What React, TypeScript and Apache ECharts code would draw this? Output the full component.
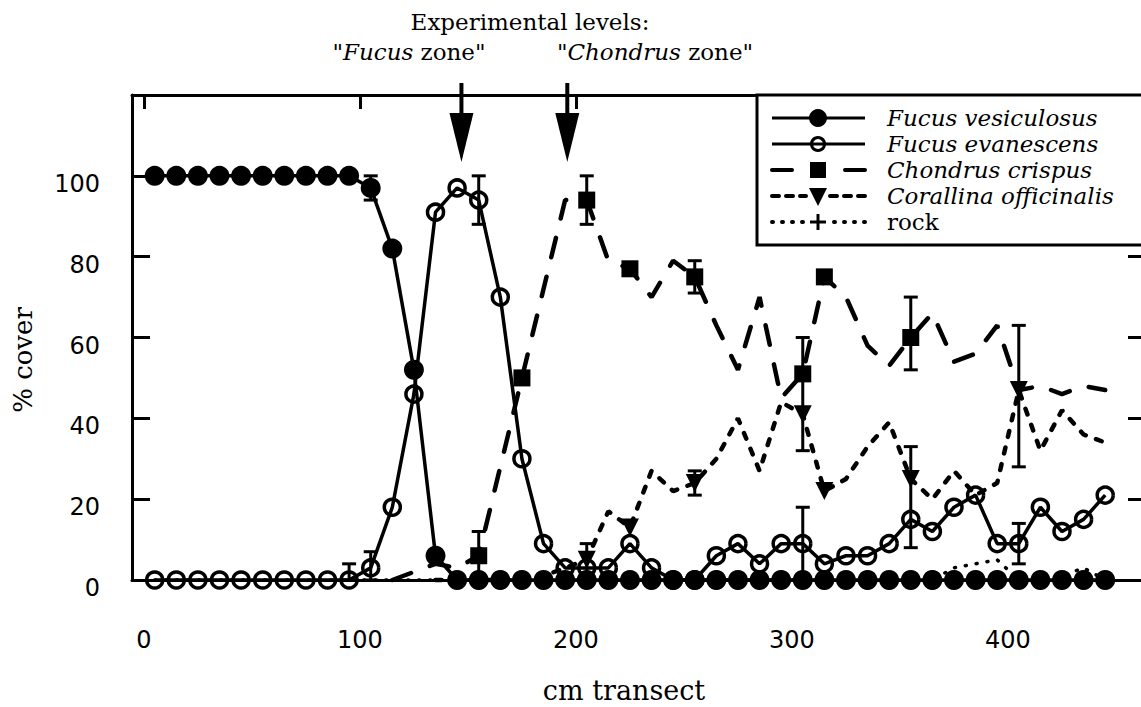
import React, { useEffect, useRef } from "react";
import * as echarts from "echarts";

// ---------- data ----------
const transectCm = [5, 15, 25, 35, 45, 55, 65, 75, 85, 95, 105, 115, 125, 135, 145, 155, 165, 175, 185, 195, 205, 215, 225, 235, 245, 255, 265, 275, 285, 295, 305, 315, 325, 335, 345, 355, 365, 375, 385, 395, 405, 415, 425, 435, 445];

const fucusVesiculosus = [100, 100, 100, 100, 100, 100, 100, 100, 100, 100, 97, 82, 52, 6, 0, 0, 0, 0, 0, 0, 0, 0, 0, 0, 0, 0, 0, 0, 0, 0, 0, 0, 0, 0, 0, 0, 0, 0, 0, 0, 0, 0, 0, 0, 0];

const fucusEvanescens = [0, 0, 0, 0, 0, 0, 0, 0, 0, 0, 3, 18, 46, 91, 97, 94, 70, 30, 9, 3, 3, 3, 9, 3, 0, 0, 6, 9, 4, 9, 9, 4, 6, 6, 9, 15, 12, 18, 21, 9, 9, 18, 12, 15, 21];

const chondrusCrispus = [null, null, null, null, null, null, null, null, null, null, null, 0, 2, 4, 3, 6, 28, 50, 72, 94, 94, 79, 77, 70, 79, 75, 63, 52, 70, 45, 51, 75, 70, 58, 53, 60, 66, 54, 56, 63, 47, 48, 46, 48, 47];

const corallinaOfficinalis = [null, null, null, null, null, null, null, null, null, null, null, null, null, 0, 0, 0, 0, 0, 1, 3, 5, 17, 13, 27, 22, 24, 30, 40, 27, 44, 41, 22, 25, 33, 39, 25, 20, 27, 21, 24, 47, 32, 42, 36, 34];

const rock = [0, 0, 0, 0, 0, 0, 0, 0, 0, 0, 0, 0, 0, 0, 0, 0, 0, 0, 0, 0, 0, 0, 0, 0, 0, 0, 0, 0, 0, 0, 0, 0, 0, 0, 0, 0, 0, 3, 4, 5, 0, 0, 1, 3, 0];

// positions (cm) where the sparse markers are drawn
const chondrusMarkersAt = [155, 175, 205, 225, 255, 305, 315, 355];
const corallinaMarkersAt = [205, 225, 255, 305, 315, 355, 405];
const rockMarkersAt = [145];

// error bars: [cm, low, high]
const errorBars = [
  [95, 0, 4],
  [105, 94, 100],
  [105, 0, 7],
  [155, 88, 100],
  [155, 0, 12],
  [205, 88, 100],
  [205, 1, 9],
  [255, 71, 79],
  [255, 21, 27],
  [305, 32, 60],
  [305, 0, 18],
  [355, 52, 70],
  [355, 8, 33],
  [405, 28, 63],
  [405, 4, 14],
];

const xTickValues = [0, 100, 200, 300, 400];
const yTickValues = [0, 20, 40, 60, 80, 100];
const experimentalLevelsCm = [147, 196];

const legendNames = ["Fucus vesiculosus", "Fucus evanescens", "Chondrus crispus", "Corallina officinalis", "rock"];

// ---------- styles ----------
const SERIF = '"DejaVu Serif", serif';
const SANS = '"DejaVu Sans", sans-serif';
const BLACK = "#000";
const PLUS_PATH = "path://M4,0 L6,0 L6,4 L10,4 L10,6 L6,6 L6,10 L4,10 L4,6 L0,6 L0,4 L4,4 Z";

function pairs(values: (number | null)[]) {
  const out: number[][] = [];
  values.forEach((v, i) => {
    if (v !== null && v !== undefined) out.push([transectCm[i], v]);
  });
  return out;
}

function sparse(values: (number | null)[], at: number[], symbol: string) {
  return pairs(values).map((p) => ({
    value: p,
    symbol: at.indexOf(p[0]) >= 0 ? symbol : "none",
  }));
}

function buildOption() {
  const xMin = -5.5;
  const xMax = 462.5;
  return {
    animation: false,
    backgroundColor: "#fff",
    grid: { left: 132, top: 95, width: 1011, height: 485, containLabel: false },
    xAxis: [
      {
        type: "value",
        position: "bottom",
        min: xMin,
        max: xMax,
        axisLine: { show: true, onZero: false, lineStyle: { color: BLACK, width: 3 } },
        axisTick: { show: false },
        splitLine: { show: false },
        axisLabel: {
          customValues: xTickValues,
          color: BLACK,
          fontFamily: SANS,
          fontSize: 24,
          margin: 48,
        },
      },
      {
        type: "value",
        position: "top",
        min: xMin,
        max: xMax,
        axisLine: { show: true, onZero: false, lineStyle: { color: BLACK, width: 3 } },
        axisTick: {
          show: true,
          inside: true,
          length: 14,
          customValues: xTickValues,
          lineStyle: { color: BLACK, width: 3 },
        },
        splitLine: { show: false },
        axisLabel: { show: false },
      },
    ],
    yAxis: [
      {
        type: "value",
        position: "left",
        min: 0,
        max: 120,
        interval: 20,
        axisLine: { show: true, onZero: false, lineStyle: { color: BLACK, width: 3 } },
        axisTick: { show: true, inside: true, length: 18, lineStyle: { color: BLACK, width: 3 } },
        splitLine: { show: false },
        axisLabel: {
          customValues: yTickValues,
          color: BLACK,
          fontFamily: SANS,
          fontSize: 24,
          margin: 32,
          verticalAlign: "top",
          lineHeight: 16,
        },
      },
      {
        type: "value",
        position: "right",
        min: 0,
        max: 120,
        interval: 20,
        axisLine: { show: true, onZero: false, lineStyle: { color: BLACK, width: 3 } },
        axisTick: { show: true, inside: true, length: 15, lineStyle: { color: BLACK, width: 3 } },
        splitLine: { show: false },
        axisLabel: { show: false },
      },
    ],
    series: [
      {
        name: "rock",
        type: "line",
        z: 2,
        silent: true,
        clip: false,
        data: sparse(rock, rockMarkersAt, PLUS_PATH),
        symbolSize: 16,
        showAllSymbol: true,
        lineStyle: { color: BLACK, width: 3.5, type: [1, 10], cap: "round" },
        itemStyle: { color: BLACK },
      },
      {
        name: "Corallina officinalis",
        type: "line",
        z: 3,
        silent: true,
        clip: false,
        data: sparse(corallinaOfficinalis, corallinaMarkersAt, "triangle"),
        symbolSize: 18,
        symbolRotate: 180,
        showAllSymbol: true,
        lineStyle: { color: BLACK, width: 4.5, type: [6, 11], cap: "round" },
        itemStyle: { color: BLACK },
      },
      {
        name: "Chondrus crispus",
        type: "line",
        z: 4,
        silent: true,
        clip: false,
        data: sparse(chondrusCrispus, chondrusMarkersAt, "rect"),
        symbolSize: 17,
        showAllSymbol: true,
        lineStyle: { color: BLACK, width: 4.5, type: [20, 20], cap: "round" },
        itemStyle: { color: BLACK },
      },
      {
        name: "Fucus evanescens",
        type: "line",
        z: 5,
        silent: true,
        clip: false,
        data: pairs(fucusEvanescens),
        symbol: "circle",
        symbolSize: 16,
        showAllSymbol: true,
        lineStyle: { color: BLACK, width: 3.5 },
        itemStyle: { color: "rgba(0,0,0,0)", borderColor: BLACK, borderWidth: 3.5 },
      },
      {
        name: "Fucus vesiculosus",
        type: "line",
        z: 6,
        silent: true,
        clip: false,
        data: pairs(fucusVesiculosus),
        symbol: "circle",
        symbolSize: 20,
        showAllSymbol: true,
        lineStyle: { color: BLACK, width: 3.5 },
        itemStyle: { color: BLACK },
      },
      {
        name: "error bars",
        type: "custom",
        z: 7,
        silent: true,
        clip: false,
        data: errorBars,
        encode: { x: 0, y: [1, 2] },
        renderItem: (params: any, api: any) => {
          const x = api.value(0);
          const top = api.coord([x, api.value(2)]);
          const bot = api.coord([x, api.value(1)]);
          const w = 7;
          const st = { stroke: BLACK, lineWidth: 3 };
          return {
            type: "group",
            children: [
              { type: "line", shape: { x1: top[0], y1: top[1], x2: bot[0], y2: bot[1] }, style: st },
              { type: "line", shape: { x1: top[0] - w, y1: top[1], x2: top[0] + w, y2: top[1] }, style: st },
              { type: "line", shape: { x1: bot[0] - w, y1: bot[1], x2: bot[0] + w, y2: bot[1] }, style: st },
            ],
          };
        },
      },
    ],
  };
}

function legendGraphics() {
  const els: any[] = [];
  const left = 757;
  const top = 95;
  els.push({
    type: "rect",
    z: 100,
    shape: { x: left, y: top, width: 420, height: 150 },
    style: { fill: "#fff", stroke: BLACK, lineWidth: 3 },
  });
  const lx1 = 772;
  const lx2 = 865;
  const sx = 818;
  const dashes: (number[] | null)[] = [null, null, [20, 20], [7, 7], [1, 9]];
  legendNames.forEach((name, i) => {
    const y = 118 + i * 26;
    const dash = dashes[i];
    const lineStyle: any = { stroke: BLACK, lineWidth: i >= 2 ? 4 : 3, lineCap: dash ? "round" : "butt" };
    if (dash) lineStyle.lineDash = dash;
    els.push({ type: "line", z: 101, shape: { x1: lx1, y1: y, x2: sx - 12, y2: y }, style: lineStyle });
    els.push({ type: "line", z: 101, shape: { x1: lx2, y1: y, x2: sx + 12, y2: y }, style: lineStyle });
    if (i === 0) {
      els.push({ type: "circle", z: 102, shape: { cx: sx, cy: y, r: 9 }, style: { fill: BLACK } });
      els.push({ type: "line", z: 101, shape: { x1: sx - 12, y1: y, x2: sx + 12, y2: y }, style: { stroke: BLACK, lineWidth: 3 } });
    } else if (i === 1) {
      els.push({ type: "line", z: 101, shape: { x1: sx - 12, y1: y, x2: sx + 12, y2: y }, style: { stroke: BLACK, lineWidth: 3 } });
      els.push({ type: "circle", z: 102, shape: { cx: sx, cy: y, r: 6.5 }, style: { fill: "none", stroke: BLACK, lineWidth: 3 } });
    } else if (i === 2) {
      els.push({ type: "rect", z: 102, shape: { x: sx - 8, y: y - 8, width: 16, height: 16 }, style: { fill: BLACK } });
    } else if (i === 3) {
      els.push({ type: "polygon", z: 102, shape: { points: [[sx - 9, y - 8], [sx + 9, y - 8], [sx, y + 10]] }, style: { fill: BLACK } });
    } else {
      els.push({ type: "line", z: 102, shape: { x1: sx - 8, y1: y, x2: sx + 8, y2: y }, style: { stroke: BLACK, lineWidth: 3 } });
      els.push({ type: "line", z: 102, shape: { x1: sx, y1: y - 8, x2: sx, y2: y + 8 }, style: { stroke: BLACK, lineWidth: 3 } });
    }
    els.push({
      type: "text",
      z: 102,
      x: 887,
      y: y,
      style: {
        text: name,
        fill: BLACK,
        fontFamily: SERIF,
        fontSize: 23,
        fontStyle: name === "rock" ? "normal" : "italic",
        align: "left",
        verticalAlign: "middle",
      },
    });
  });
  return els;
}

function titleGraphics(arrowXs: number[]) {
  const els: any[] = [];
  els.push({
    type: "text",
    z: 100,
    x: 530,
    y: 22,
    style: { text: "Experimental levels:", fill: BLACK, fontFamily: SERIF, fontSize: 23, align: "center", verticalAlign: "middle" },
  });
  els.push({
    type: "text",
    z: 100,
    x: 409,
    y: 52,
    style: {
      text: '"{i|Fucus} zone"',
      fill: BLACK,
      fontFamily: SERIF,
      fontSize: 23,
      align: "center",
      verticalAlign: "middle",
      rich: { i: { fontStyle: "italic", fontFamily: SERIF, fontSize: 23, fill: BLACK } },
    },
  });
  els.push({
    type: "text",
    z: 100,
    x: 655,
    y: 52,
    style: {
      text: '"{i|Chondrus} zone"',
      fill: BLACK,
      fontFamily: SERIF,
      fontSize: 23,
      align: "center",
      verticalAlign: "middle",
      rich: { i: { fontStyle: "italic", fontFamily: SERIF, fontSize: 23, fill: BLACK } },
    },
  });
  arrowXs.forEach((x) => {
    els.push({ type: "line", z: 100, shape: { x1: x, y1: 83, x2: x, y2: 118 }, style: { stroke: BLACK, lineWidth: 4 } });
    els.push({
      type: "polygon",
      z: 100,
      shape: { points: [[x - 12, 113], [x + 12, 113], [x, 162]] },
      style: { fill: BLACK },
    });
  });
  els.push({
    type: "text",
    z: 100,
    x: 624,
    y: 690,
    style: { text: "cm transect", fill: BLACK, fontFamily: SERIF, fontSize: 27, align: "center", verticalAlign: "middle" },
  });
  els.push({
    type: "text",
    z: 100,
    x: 23,
    y: 360,
    rotation: Math.PI / 2,
    style: { text: "% cover", fill: BLACK, fontFamily: SERIF, fontSize: 26, align: "center", verticalAlign: "middle" },
  });
  return els;
}

export default function App() {
  const ref = useRef<HTMLDivElement>(null);
  useEffect(() => {
    if (!ref.current) return;
    const chart = echarts.init(ref.current, null, { renderer: "svg" });
    chart.setOption(buildOption() as any);
    const arrowXs = experimentalLevelsCm.map((v) => chart.convertToPixel({ xAxisIndex: 0 }, v) as number);
    chart.setOption({ graphic: [...titleGraphics(arrowXs), ...legendGraphics()] } as any);
    return () => chart.dispose();
  }, []);
  return (
    <div
      ref={ref}
      style={{ position: "fixed", left: 0, top: 0, width: 1145, height: 707, background: "#fff" }}
    />
  );
}
